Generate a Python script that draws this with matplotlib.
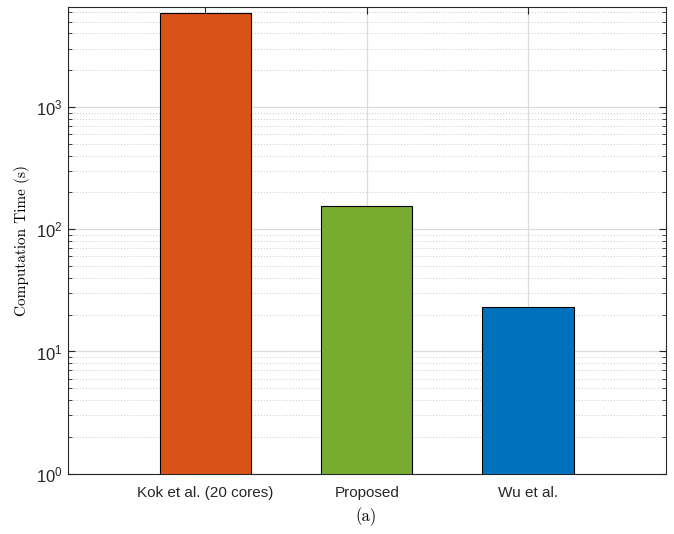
import matplotlib as mpl
mpl.use('Agg')
import matplotlib.pyplot as plt
from matplotlib.ticker import LogLocator, NullFormatter
import numpy as np

methods = ['Kok et al. (20 cores)', 'Proposed', 'Wu et al.']
times = [5880, 154, 23.1]
colors = ['#D95319', '#77AC30', '#0072BD']

plt.rcParams['font.family'] = ['Liberation Sans', 'DejaVu Sans']
plt.rcParams['mathtext.fontset'] = 'custom'
plt.rcParams['mathtext.rm'] = 'Liberation Sans'
plt.rcParams['mathtext.it'] = 'Liberation Sans:italic'

fig = plt.figure(figsize=(6.74, 5.34), dpi=100)
ax = fig.add_axes([67.5/674, 1 - 473.7/534, 598.5/674, 466.4/534])

x = np.arange(1, len(methods) + 1)
ax.bar(x, times, width=0.565, color=colors, edgecolor='black', linewidth=0.8, zorder=3)

ax.set_yscale('log')
ax.set_ylim(1, 10**3.816)
ax.set_xlim(0.145, 3.855)
ax.set_xticks(x)
ax.set_xticklabels(methods, fontsize=11, color='#262626')

ax.yaxis.set_major_locator(LogLocator(base=10, numticks=10))
ax.yaxis.set_minor_locator(LogLocator(base=10, subs=np.arange(2, 10), numticks=10))
ax.yaxis.set_minor_formatter(NullFormatter())

ax.grid(True, which='major', color='#dcdcdc', linewidth=0.9, zorder=0)
ax.grid(True, which='minor', axis='y', color='#c8c8c8', linestyle=(0, (1, 2)), linewidth=0.7, zorder=0)
ax.set_axisbelow(True)

ax.tick_params(which='both', direction='in', top=True, right=True, colors='#262626')
ax.tick_params(axis='y', labelsize=12)
ax.tick_params(axis='x', pad=9)
ax.tick_params(which='major', length=5)
ax.tick_params(which='minor', length=3)
for s in ax.spines.values():
    s.set_color('#262626')
    s.set_linewidth(0.8)

ax.set_ylabel('Computation Time (s)', fontfamily='cmr10', fontsize=11)
fig.text(366/674, 1 - 517/534, '(a)', fontfamily='cmr10', fontsize=12, ha='center', va='center')

plt.savefig('out.png', dpi=100)
plt.close()
